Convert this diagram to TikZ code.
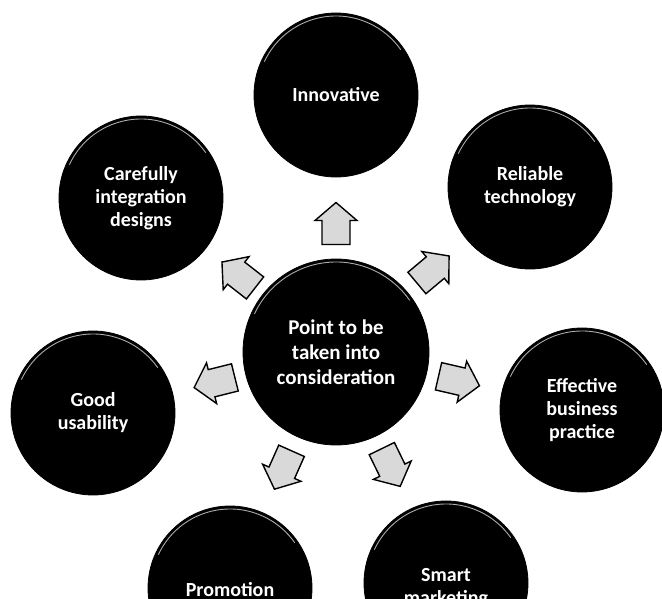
\documentclass[tikz,border=0pt]{standalone}
\usepackage{fontspec}
\setmainfont{Carlito}
\usetikzlibrary{calc}
\begin{document}
\begin{tikzpicture}[x=1pt,y=1pt,
  bubble/.style={circle, fill=black, draw=black, line width=0.8pt,
    text=white, font=\bfseries\fontsize{20}{23}\selectfont, align=center,
    inner sep=0pt, minimum size=164pt},
  hub/.style={bubble, minimum size=186pt, font=\bfseries\fontsize{21}{25}\selectfont},
  arrowlook/.style={draw=black, line width=1.4pt, line join=miter, fill=gray!30},
  rim/.style={draw=gray!65, line width=0.9pt},
  pics/blockarrow/.style={code={
    \draw[arrowlook] (-21,-14) -- (3,-14) -- (3,-21) -- (21,0) -- (3,21)
      -- (3,14) -- (-21,14) -- cycle;}}
]
\useasboundingbox (0,0) rectangle (662,598);
\clip (0,0) rectangle (662,598);

% central topic
\node[hub] (c) at (336,246) {Point to be\\taken into\\consideration};

% surrounding topics
\node[bubble] (n1) at (336,503) {Innovative};
\node[bubble] (n2) at (530,411) {Reliable\\technology};
\node[bubble] (n3) at (582,188) {Effective\\business\\practice};
\node[bubble] (n4) at (446,15)  {};
\node[bubble] (n5) at (230,10)  {};
\node[bubble] (n6) at (93,185)  {Good\\usability};
\node[bubble] (n7) at (141,400) {Carefully\\integration\\designs};

% labels of the two lower bubbles, set a little below their centres
\node[text=white, font=\bfseries\fontsize{20}{23}\selectfont, align=center]
  (t4) at (446,10) {Smart\\marketing};
\node[text=white, font=\bfseries\fontsize{20}{23}\selectfont]
  (t5) at (230,8) {Promotion};

% light rim along the top edge of each bubble
\foreach \nd/\r in {n1/79, n2/79, n3/79, n4/79, n5/79, n6/79, n7/79, c/90}
  \draw[rim] ($(\nd.center)+(155:\r)$) arc (155:35:\r);

% block arrows pointing from the centre to each topic
\foreach \nd/\ang in {n1/90, n2/40, n3/-13, n4/-64, n5/-114, n6/194, n7/142}
  \pic (a-\nd) [rotate=\ang] at ($(c)!0.5!(\nd)$) {blockarrow};
\end{tikzpicture}
\end{document}
